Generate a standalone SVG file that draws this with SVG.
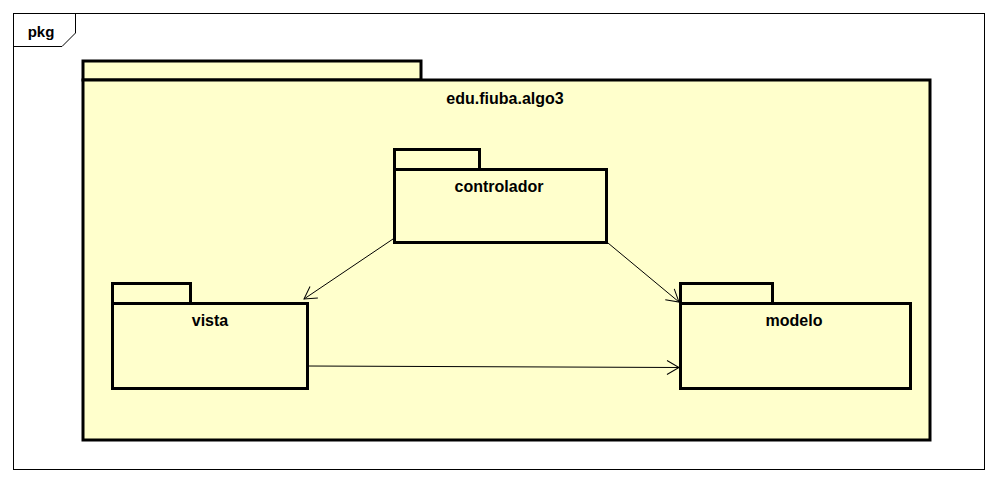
<svg xmlns="http://www.w3.org/2000/svg" width="997" height="482" viewBox="0 0 997 482">
<defs>
<style>
.pk{fill:#FFFFCC;stroke:#000;stroke-width:3}
.lbl{font-family:"Liberation Sans",Arial,sans-serif;font-weight:bold;font-size:16px;fill:#000;text-anchor:middle}
.dep{stroke:#000;stroke-width:1;fill:none;marker-end:url(#open)}
</style>
<marker id="open" markerUnits="userSpaceOnUse" markerWidth="20" markerHeight="20" refX="13" refY="8" orient="auto">
<path d="M1,1 L13,8 L1,15" fill="none" stroke="#000" stroke-width="1"/>
</marker>
</defs>
<rect x="0" y="0" width="997" height="482" fill="#fff"/>
<g id="frame">
<rect x="13.5" y="13.5" width="971" height="456" fill="#fff" stroke="#000" stroke-width="1"/>
<path d="M13.5,46.5 H62 L75.5,33 V13.5" fill="none" stroke="#000" stroke-width="1"/>
<text x="41" y="37" class="lbl" style="font-size:15px">pkg</text>
</g>
<g id="edu.fiuba.algo3">
<rect class="pk" x="83" y="61" width="338" height="19"/>
<rect class="pk" x="83" y="80" width="847" height="360"/>
<text x="505" y="104" class="lbl">edu.fiuba.algo3</text>
</g>
<g id="controlador">
<rect class="pk" x="394.5" y="149.5" width="85" height="20"/>
<rect class="pk" x="394.5" y="169.5" width="212" height="73"/>
<text x="499" y="192" class="lbl">controlador</text>
</g>
<g id="vista">
<rect class="pk" x="112.5" y="283.5" width="78" height="20"/>
<rect class="pk" x="112.5" y="303.5" width="195" height="85"/>
<text x="210" y="326" class="lbl">vista</text>
</g>
<g id="modelo">
<rect class="pk" x="680.5" y="283.5" width="92" height="20"/>
<rect class="pk" x="680.5" y="303.5" width="230" height="85"/>
<text x="794" y="326" class="lbl">modelo</text>
</g>
<g id="connectors">
<line class="dep" x1="393" y1="239" x2="304" y2="299"/>
<line class="dep" x1="608" y1="243" x2="679" y2="302"/>
<line class="dep" x1="307" y1="366" x2="679" y2="367.5"/>
</g>
</svg>
